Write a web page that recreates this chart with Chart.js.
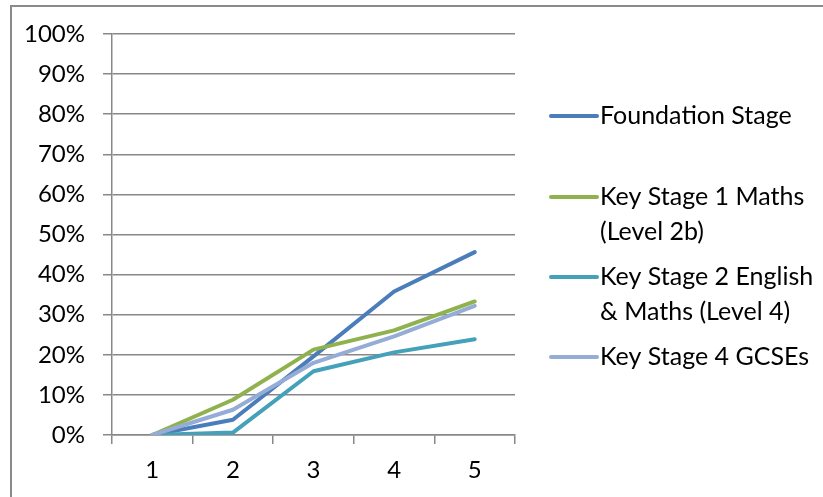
<!DOCTYPE html>
<html>
<head>
<meta charset="utf-8">
<script src="https://cdn.jsdelivr.net/npm/chart.js@4/dist/chart.umd.min.js"></script>
<style>
    html, body { margin: 0; padding: 0; background: #fff; overflow: hidden; }
    .frame {
        position: absolute; left: 10px; top: 5px; width: 900px; height: 600px;
        border-left: 2px solid #8a8a8a; border-top: 2px solid #8a8a8a;
    }
    #progressChart { position: absolute; left: 0; top: 0; }
</style>
</head>
<body>
<div class="frame"></div>
<canvas id="progressChart" width="823" height="497"></canvas>
<script>
// Years since start
const years = ["1", "2", "3", "4", "5"];

// Share of pupils reaching each measure (fractions of 1)
const foundationStage = [0, 0.038, 0.196, 0.358, 0.456];
const ks1Maths = [0, 0.088, 0.213, 0.261, 0.333];
const ks2EnglishMaths = [0, 0.006, 0.159, 0.206, 0.239];
const ks4Gcses = [0, 0.063, 0.180, 0.246, 0.322];

const seriesNames = [
    ["Foundation Stage"],
    ["Key Stage 1 Maths", "(Level 2b)"],
    ["Key Stage 2 English", "& Maths (Level 4)"],
    ["Key Stage 4 GCSEs"]
];
const seriesColors = ["#4A7DBA", "#8FB24E", "#45A0B9", "#94ACD6"];

const FONT = "Lato, 'Open Sans', sans-serif";

// Legend on the right, each entry a short line sample with wrapped text
const sideLegend = {
    id: "sideLegend",
    afterDraw(chart) {
        const ctx = chart.ctx;
        const rows = [116, 197, 277, 357];
        ctx.save();
        ctx.font = "25px " + FONT;
        ctx.fillStyle = "#000";
        ctx.textBaseline = "middle";
        seriesNames.forEach((lines, i) => {
            const y = rows[i];
            ctx.strokeStyle = seriesColors[i];
            ctx.lineWidth = 4;
            ctx.lineCap = "round";
            ctx.beginPath();
            ctx.moveTo(551, y);
            ctx.lineTo(597, y);
            ctx.stroke();
            lines.forEach((t, j) => {
                ctx.fillText(t, 600, y + j * 35);
            });
        });
        ctx.restore();
    }
};

function makeSet(label, data, i) {
    return {
        label: label,
        data: data,
        borderColor: seriesColors[i],
        backgroundColor: seriesColors[i],
        borderWidth: 4,
        pointRadius: 0,
        tension: 0,
        borderCapStyle: "round",
        borderJoinStyle: "round",
        fill: false,
        order: 4 - i
    };
}

new Chart(document.getElementById("progressChart").getContext("2d"), {
    type: "line",
    data: {
        labels: years,
        datasets: [
            makeSet("Foundation Stage", foundationStage, 0),
            makeSet("Key Stage 1 Maths (Level 2b)", ks1Maths, 1),
            makeSet("Key Stage 2 English & Maths (Level 4)", ks2EnglishMaths, 2),
            makeSet("Key Stage 4 GCSEs", ks4Gcses, 3)
        ]
    },
    options: {
        responsive: false,
        animation: false,
        layout: { padding: { left: 0, right: 308, top: 34, bottom: 0 } },
        plugins: {
            legend: { display: false },
            tooltip: { enabled: false }
        },
        scales: {
            x: {
                offset: true,
                afterFit(scale) { scale.height = 62; },
                grid: {
                    offset: true,
                    drawOnChartArea: false,
                    tickLength: 9,
                    color: "#888",
                    lineWidth: 1.5
                },
                border: { color: "#888", width: 1.5 },
                ticks: {
                    padding: 12,
                    color: "#000",
                    font: { family: FONT, size: 24 }
                }
            },
            y: {
                min: 0,
                max: 1,
                afterFit(scale) { scale.width = 112; },
                grid: {
                    tickLength: 9,
                    color: "#888",
                    lineWidth: 1.5
                },
                border: { color: "#888", width: 1.5 },
                ticks: {
                    stepSize: 0.1,
                    padding: 18,
                    color: "#000",
                    font: { family: FONT, size: 24 },
                    callback: v => Math.round(v * 100) + "%"
                }
            }
        }
    },
    plugins: [sideLegend]
});
</script>
</body>
</html>
